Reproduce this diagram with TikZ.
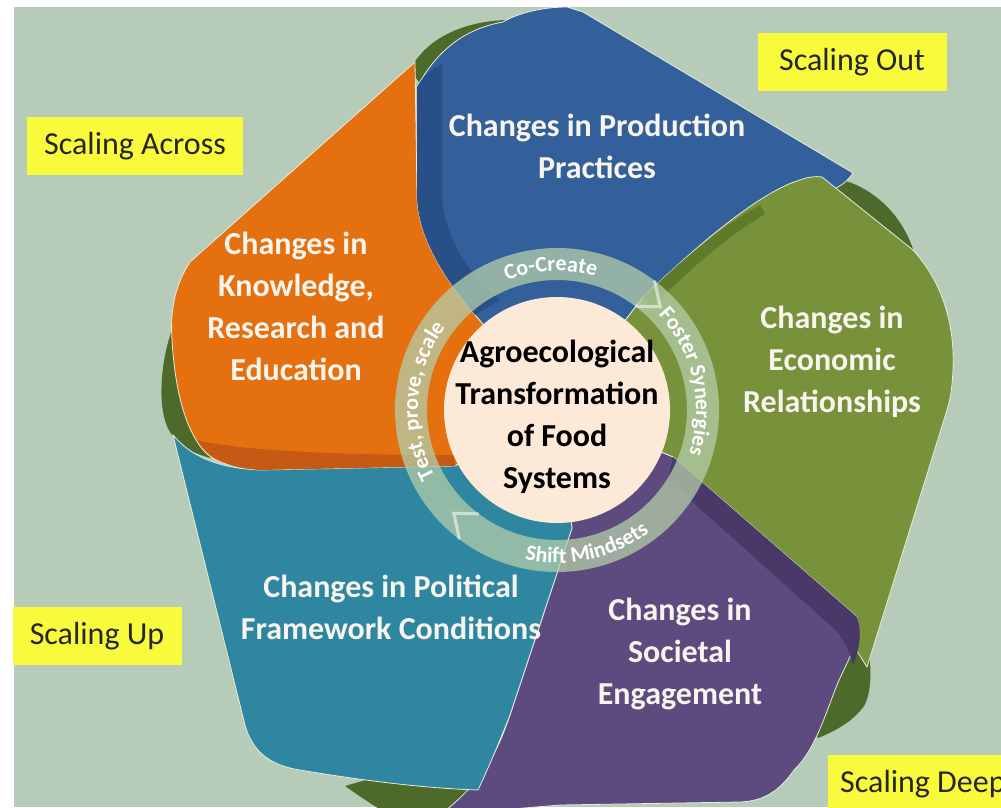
\documentclass[tikz,border=0pt]{standalone}
\usepackage{fontspec}
\setmainfont{Carlito}
\usepackage{xcolor}
\definecolor{BgSage}{HTML}{B6CCB8}
\definecolor{PetalBlue}{HTML}{33609A}
\definecolor{PetalOrange}{HTML}{E4700F}
\definecolor{PetalGreen}{HTML}{77923B}
\definecolor{PetalPurple}{HTML}{5D4A7E}
\definecolor{PetalTeal}{HTML}{2E86A0}
\definecolor{DarkBlue}{HTML}{284F88}
\definecolor{DarkOrange}{HTML}{C65A14}
\definecolor{DarkGreen}{HTML}{5E7A2B}
\definecolor{DarkPurple}{HTML}{4A3868}
\definecolor{DarkOlive}{HTML}{4E6A2A}
\definecolor{PetalEdge}{HTML}{E4EEDC}
\definecolor{CorePeach}{HTML}{FCE9D7}
\definecolor{RingSage}{HTML}{B4CEAA}
\definecolor{LabelYellow}{HTML}{FAFA3C}
\definecolor{PetalText}{HTML}{F8F4EE}
\usepackage{tikz}
\usetikzlibrary{decorations.text}
\newcommand\RingIn{130}
\newcommand\RingOut{162}
\newcommand\RingMid{146}
\newcommand\RingUp{139}
\newcommand\RingDown{153}
\newcommand\CoreRad{113}
\newcommand\PetalFont{\fontsize{32}{42}\selectfont\bfseries}
\newcommand\ScaleFont{\fontsize{32}{38}\selectfont}
\newcommand\RingFont{\fontsize{22}{22}\selectfont\bfseries}
\tikzstyle{petal}=[draw=PetalEdge,line width=0.8pt]
\tikzstyle{fold}=[fill=DarkOlive]
\tikzstyle{ringarc}=[fill=RingSage,fill opacity=0.75]
\tikzstyle{chevron}=[draw=white,draw opacity=0.55,line width=3pt]
\tikzstyle{petallabel}=[text=PetalText,align=center,font=\PetalFont]
\tikzstyle{corelabel}=[text=black,align=center,font=\PetalFont]
\tikzstyle{scalebox}=[rectangle,fill=LabelYellow,text=black!85,font=\ScaleFont,minimum height=58pt]

\begin{document}
\begin{tikzpicture}[x=1pt,y=-1pt]
      \clip (0,0) rectangle (1001,807);
      \fill[white] (0,0) rectangle (1001,807);
      \fill[BgSage] (14,7) rectangle (1001,807);
      \fill[fold] (410,70) .. controls (425,40) and (460,22) .. (505,20) -- (540,45) -- (440,110) -- cycle;
      \fill[fold] (818,177) .. controls (862,176) and (903,210) .. (915,256) -- (880,265) -- (820,200) -- cycle;
      \fill[fold] (176,320) .. controls (160,355) and (156,410) .. (170,432) .. controls (178,446) and (190,452) .. (210,458) -- (230,420) -- (200,330) -- cycle;
      \fill[fold] (852,608) .. controls (874,640) and (874,690) .. (864,706) .. controls (854,720) and (838,730) .. (818,738) -- (790,700) -- cycle;
      \fill[fold] (345,786) .. controls (365,800) and (380,810) .. (395,818) -- (480,818) -- (495,770) -- (400,770) -- cycle;
      \filldraw[petal,fill=PetalBlue] (557,410) -- (475,315) .. controls (450,285) and (417,240) .. (417,195) -- (417,87) .. controls (440,45) and (470,28) .. (503,22) .. controls (520,12) and (545,7) .. (567,7) -- (583,12) -- (853,173) .. controls (845,185) and (835,190) .. (822,192) -- (670,272) -- (643,297) -- cycle;
      \filldraw[petal,fill=PetalGreen] (557,410) -- (643,297) -- (670,272) .. controls (710,235) and (765,190) .. (800,180) .. controls (808,177) and (815,176) .. (822,177) -- (913,250) .. controls (945,285) and (955,330) .. (953,370) .. controls (952,390) and (950,400) .. (947,410) -- (867,667) -- (850,640) -- (673,457) -- cycle;
      \filldraw[petal,fill=PetalPurple] (557,410) -- (673,457) -- (857,617) .. controls (862,640) and (845,665) .. (837,685) .. controls (825,715) and (815,750) .. (794,770) .. controls (780,790) and (765,801) .. (740,802) -- (560,805) -- (440,815) .. controls (485,780) and (498,750) .. (510,715) -- (572,528) -- cycle;
      \filldraw[petal,fill=PetalOrange] (557,410) -- (475,315) .. controls (450,285) and (417,240) .. (417,195) -- (415,62) -- (190,262) .. controls (175,285) and (170,310) .. (172,340) .. controls (175,390) and (185,430) .. (205,452) .. controls (215,462) and (228,466) .. (245,466) -- (455,466) -- cycle;
      \filldraw[petal,fill=PetalTeal] (557,410) -- (455,466) -- (260,470) .. controls (215,468) and (190,455) .. (173,435) -- (245,725) .. controls (252,750) and (268,765) .. (300,770) .. controls (360,780) and (420,788) .. (478,790) .. controls (492,760) and (500,740) .. (510,715) -- (572,528) -- cycle;
      \fill[DarkBlue] (475,315) .. controls (450,285) and (417,240) .. (417,195) -- (417,87) .. controls (422,78) and (430,70) .. (442,64) -- (442,190) .. controls (442,235) and (468,275) .. (500,300) -- cycle;
      \fill[DarkGreen] (643,297) -- (670,272) .. controls (700,245) and (730,222) .. (760,205) -- (765,214) .. controls (735,232) and (705,256) .. (678,282) -- (652,306) -- cycle;
      \fill[DarkPurple] (673,457) -- (857,617) .. controls (862,632) and (860,648) .. (853,665) .. controls (848,645) and (840,633) .. (830,625) -- (668,480) -- cycle;
      \fill[DarkOrange] (197,440) .. controls (230,448) and (300,455) .. (455,455) -- (455,466) -- (260,470) .. controls (230,468) and (210,460) .. cycle;
   \begin{scope}[shift={(557,410)}]
      \fill[ringarc] (127:\RingOut) arc[start angle=127,end angle=307,radius=\RingOut] -- (315:\RingMid) -- (307:\RingIn) arc[start angle=307,end angle=127,radius=\RingIn] -- (135:\RingMid) -- cycle;
      \fill[ringarc] (307:\RingOut) arc[start angle=307,end angle=487,radius=\RingOut] -- (495:\RingMid) -- (487:\RingIn) arc[start angle=487,end angle=307,radius=\RingIn] -- (315:\RingMid) -- cycle;
      \draw[chevron] (307:\RingOut) -- (315:\RingMid) -- (307:\RingIn);
      \draw[chevron] (127:\RingOut) -- (135:\RingMid) -- (127:\RingIn);
      \fill[CorePeach] (0,0) circle[radius=\CoreRad];
      \path[decorate,decoration={text along path,text={|\RingFont|Co-Create},text align=center,text color=white}] (240:\RingUp) arc[start angle=240,end angle=295,radius=\RingUp];
      \path[decorate,decoration={text along path,text={|\RingFont|Foster Synergies},text align=center,text color=white}] (-50:\RingUp) arc[start angle=-50,end angle=25,radius=\RingUp];
      \path[decorate,decoration={text along path,text={|\RingFont|Shift Mindsets},text align=center,text color=white}] (110:\RingDown) arc[start angle=110,end angle=45,radius=\RingDown];
      \path[decorate,decoration={text along path,text={|\RingFont|Test, prove, scale},text align=center,text color=white}] (140:\RingUp) arc[start angle=140,end angle=228,radius=\RingUp];
   \end{scope}
      \node[corelabel] (core) at (557,417) {Agroecological\\Transformation\\of Food\\Systems};
      \node[petallabel] (production) at (597,146) {Changes in Production\\Practices};
      \node[petallabel] (knowledge) at (296,306) {Changes in\\Knowledge,\\Research and\\Education};
      \node[petallabel] (economic) at (832,362) {Changes in\\Economic\\Relationships};
      \node[petallabel] (societal) at (680,654) {Changes in\\Societal\\Engagement};
      \node[petallabel] (political) at (391,607) {Changes in Political\\Framework Conditions};
      \node[scalebox,minimum width=216pt] (across) at (135,146) {Scaling Across};
      \node[scalebox,minimum width=189pt] (out) at (852,62) {Scaling Out};
      \node[scalebox,minimum width=169pt] (up) at (97,636) {Scaling Up};
      \node[scalebox,anchor=north west,inner xsep=12pt] (deep) at (828,755) {Scaling Deep};
   \end{tikzpicture}
\end{document}
